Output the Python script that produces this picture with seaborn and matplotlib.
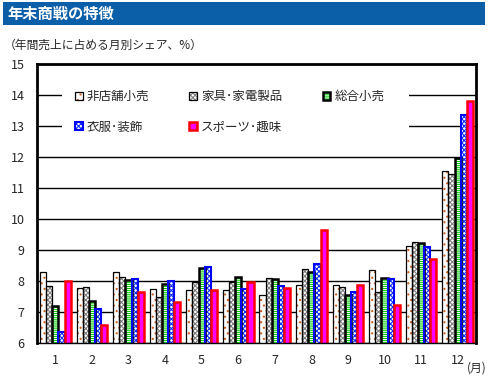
import numpy as np
import pandas as pd
import matplotlib
matplotlib.use("Agg")
import matplotlib.pyplot as plt
from matplotlib.patches import Rectangle, Patch
import seaborn as sns

months = [str(m) for m in range(1, 13)]
series = ["非店舗小売", "家具･家電製品", "総合小売", "衣服･装飾", "スポーツ･趣味"]
non_store = [8.29, 7.77, 8.29, 7.74, 7.71, 7.71, 7.56, 7.88, 7.88, 8.37, 9.14, 11.55]
furniture = [7.83, 7.81, 8.13, 7.48, 7.98, 7.98, 8.11, 8.40, 7.82, 7.66, 9.25, 11.46]
general = [7.18, 7.35, 8.02, 7.90, 8.42, 8.12, 8.05, 8.29, 7.56, 8.11, 9.21, 11.98]
apparel = [6.35, 7.10, 8.06, 7.99, 8.45, 7.74, 7.85, 8.56, 7.63, 8.05, 9.11, 13.36]
sports = [7.99, 6.58, 7.65, 7.33, 7.71, 7.98, 7.79, 9.63, 7.88, 7.21, 8.72, 13.81]
y_ticks = list(range(6, 16))

values = [non_store, furniture, general, apparel, sports]
df = pd.DataFrame(
    [(m, s, v) for s, vals in zip(series, values) for m, v in zip(months, vals)],
    columns=["month", "series", "share"],
)

# fill colour, hatch, hatch colour, outline colour, outline width
styles = [
    ("white", "...", "#d06020", "black", 0.9),
    ("white", "xxxxxxx", "#808080", "black", 0.9),
    ("white", "--------", "#00d000", "black", 1.8),
    ("white", "xxxxxxx", "#1030ff", "#0000ff", 1.5),
    ("#ff00ff", None, "#ff00ff", "#ff0000", 1.8),
]

sns.set_style("white")
plt.rcParams["font.family"] = ["Noto Sans CJK JP", "DejaVu Sans"]
plt.rcParams["hatch.linewidth"] = 0.8

fig = plt.figure(figsize=(4.9, 3.76), dpi=100)
ax = fig.add_axes([37 / 490, 1 - 343 / 376, 439 / 490, 279 / 376])

sns.barplot(
    data=df, x="month", y="share", hue="series", order=months, hue_order=series,
    width=0.84, gap=0, palette=["white"] * 5, legend=False, ax=ax, errorbar=None,
)

for cont, (fc, hatch, hc, ec, lw) in zip(ax.containers, styles):
    for bar in cont:
        bar.set_facecolor(fc)
        bar.set_hatch(hatch)
        bar.set_edgecolor(hc)
        bar.set_linewidth(0)
        ax.add_patch(Rectangle(bar.get_xy(), bar.get_width(), bar.get_height(),
                               fill=False, ec=ec, lw=lw, zorder=bar.get_zorder() + 0.1))

ax.set_ylim(6, 15)
ax.set_xlim(-0.5, 11.5)
ax.set_yticks(y_ticks)
ax.set_yticklabels([str(t) for t in y_ticks], fontsize=9)
ax.set_xticks(range(12))
ax.set_xticklabels(months, fontsize=9)
ax.set_xticks(np.arange(-0.5, 12, 1), minor=True)
ax.tick_params(axis="x", which="major", length=0, pad=8)
ax.tick_params(axis="x", which="minor", length=4, width=1, color="black", direction="out")
ax.tick_params(axis="y", length=4, width=1, color="black", direction="out", pad=5)
ax.set_xlabel("")
ax.set_ylabel("")
ax.set_axisbelow(True)
ax.yaxis.grid(True, color="black", lw=1)
for side in ["left", "top", "right"]:
    ax.spines[side].set_linewidth(2)
    ax.spines[side].set_color("black")
ax.spines["bottom"].set_linewidth(1)
ax.spines["bottom"].set_color("black")

# white backing behind the legend hides the gridlines there
ax.add_patch(Rectangle((25 / 439, (343 - 142) / 279), 347 / 439, 54 / 279,
                       transform=ax.transAxes, fc="white", ec="none", zorder=0.8))

handles = []
for fc, hatch, hc, ec, lw in styles:
    handles.append((Patch(fc=fc, hatch=hatch, ec=hc, lw=0), Patch(fill=False, ec=ec, lw=lw)))
order = [0, 3, 1, 4, 2]
ax.legend([handles[i] for i in order], [series[i] for i in order], ncol=3,
          loc="upper left", bbox_to_anchor=((75 - 37) / 439, (343 - 90) / 279),
          frameon=False, fontsize=9, handlelength=0.6, handleheight=0.6,
          handletextpad=0.35, columnspacing=3.2, labelspacing=1.4, borderpad=0,
          borderaxespad=0)

# title bar
fig.patches.append(Rectangle((3 / 490, 1 - 25 / 376), 482 / 490, 23 / 376,
                             transform=fig.transFigure, fc="#0b5fa8", ec="none"))
fig.text(7 / 490, 1 - 14 / 376, "年末商戦の特徴", color="white", fontsize=11,
         fontweight="bold", va="center", ha="left")
fig.text(4 / 490, 1 - 45 / 376, "（年間売上に占める月別シェア、%）", fontsize=8.5,
         va="center", ha="left")
fig.text(467 / 490, 1 - 368 / 376, "(月)", fontsize=8.5, va="center", ha="left")

fig.savefig("out.png", dpi=100)
